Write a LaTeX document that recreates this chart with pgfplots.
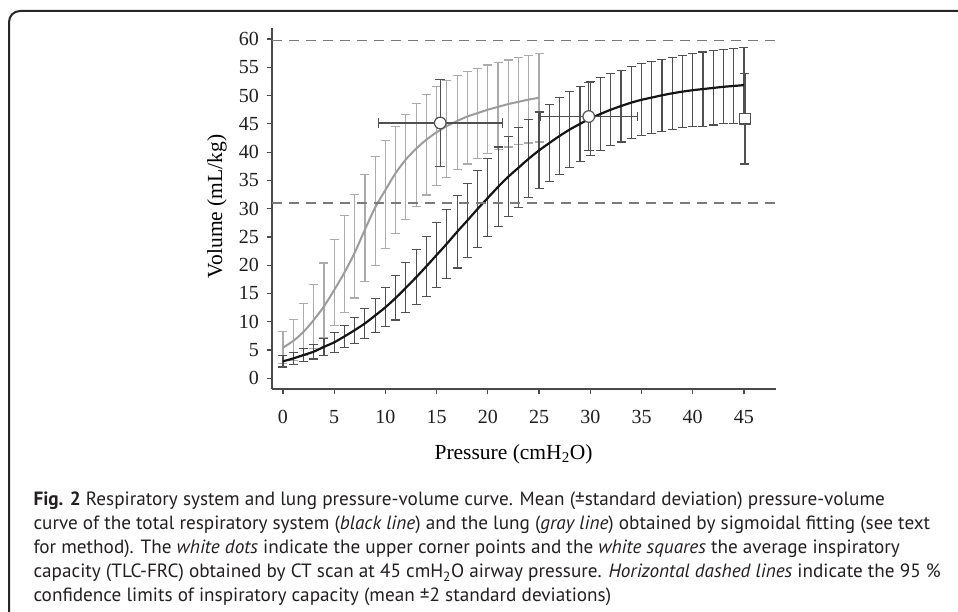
\documentclass[border=0pt]{standalone}
\usepackage{fontspec}
\setmainfont{Liberation Serif}
\newfontfamily\capfont{PT Sans}
\usepackage{pgfplots}
\usepackage{pgfplotstable}
\pgfplotsset{compat=1.18}

\definecolor{axisgray}{HTML}{4A4A4A}
\definecolor{bargray}{HTML}{ABABAB}
\definecolor{linegray}{HTML}{9C9C9C}
\definecolor{bardark}{HTML}{505050}
\definecolor{dashgray}{HTML}{7A7A7A}
\definecolor{captext}{HTML}{231F20}

% respiratory system: mean and SD at each pressure
\pgfplotstableread{
p v e
0 3.0 1.0
1 3.5 1.0
2 4.1 1.2
3 4.7 1.3
4 5.55 1.55
5 6.35 1.75
6 7.4 2.0
7 8.5 2.3
8 9.7 2.6
9 11.1 3.0
10 12.55 3.45
11 14.2 3.9
12 16.0 4.4
13 17.85 4.85
14 19.8 5.3
15 21.8 5.7
16 23.8 6.1
17 25.9 6.4
18 27.9 6.6
19 29.95 6.75
20 31.9 6.9
21 33.85 7.05
22 35.65 7.05
23 37.25 7.05
24 38.85 6.95
25 40.3 6.8
26 41.6 6.8
27 42.85 6.75
28 44.0 6.7
29 45.0 6.6
30 45.95 6.55
31 46.75 6.45
32 47.5 6.4
33 48.15 6.35
34 48.75 6.35
35 49.25 6.35
36 49.65 6.35
37 50.05 6.35
38 50.4 6.4
39 50.7 6.4
40 50.95 6.45
41 51.15 6.55
42 51.35 6.55
43 51.55 6.55
44 51.7 6.6
45 51.85 6.65
}\blackbars

% lung: mean and SD at each pressure
\pgfplotstableread{
p v e
0 5.4 2.8
1 6.8 3.6
2 8.6 4.6
3 10.95 5.65
4 13.8 6.6
5 16.95 7.65
6 20.2 8.6
7 23.35 9.15
8 26.55 9.45
9 29.6 9.6
10 32.45 9.55
11 35.05 9.45
12 37.4 9.3
13 39.5 9.1
14 41.3 8.9
15 42.85 8.75
16 44.05 8.55
17 45.2 8.3
18 46.05 8.15
19 46.8 8.0
20 47.55 7.85
21 48.1 7.7
22 48.6 7.7
23 49.0 7.7
24 49.35 7.75
25 49.6 7.8
}\graybars

% lung: sigmoid fit
\pgfplotstableread{
p v
0 5.4
1 6.6
2 8.2
3 10.3
4 12.7
5 15.6
6 18.7
7 22.2
8 26.3
9 30.2
10 33.3
11 36.3
12 38.7
13 40.6
14 42.2
15 43.5
16 44.6
17 45.5
18 46.3
19 46.9
20 47.5
21 48.0
22 48.5
23 48.9
24 49.3
25 49.6
}\graycurve

\begin{document}
\begin{tikzpicture}
\useasboundingbox (0,0) rectangle (958pt,612pt);
\draw[line width=2pt, color=black!85, rounded corners=11pt] (9pt,-20pt) -- (9pt,601pt) -- (980pt,601pt);

\begin{axis}[
  at={(272pt,223pt)}, anchor=south west,
  scale only axis, width=503.7pt, height=360.7pt,
  xmin=-1.07, xmax=48.1, ymin=-1.9, ymax=61.9,
  axis lines=left,
  axis line style={-, line width=1.2pt, color=axisgray},
  tick align=outside,
  major tick length=5.5pt,
  tick style={line width=1.2pt, color=axisgray},
  xtick={0,5,...,45}, ytick={0,5,...,60},
  /pgf/number format/assume math mode=true,
  ticklabel style={font=\fontsize{20}{20}\selectfont, color=black!88},
  xticklabel style={yshift=-12pt},
  yticklabel style={xshift=-4pt},
  xlabel={Pressure (cmH\textsubscript{2}O)},
  ylabel={Volume (mL/kg)},
  every axis x label/.style={at={(axis description cs:0.4795,0)}, anchor=base, yshift=-70.3pt, font=\fontsize{21.5}{21.5}\selectfont},
  every axis y label/.style={at={(axis description cs:0,0.506)}, xshift=-50pt, rotate=90, anchor=base, font=\fontsize{21.5}{21.5}\selectfont},
  clip=false,
]
% lung error bars and fit
\addplot[draw=none, forget plot,
  error bars/.cd, y dir=both, y explicit,
  error bar style={draw=bargray, line width=1.2pt},
  error mark options={rotate=90, draw=bargray, line width=1.2pt, mark size=4.5pt}]
  table[x=p, y=v, y error=e] {\graybars};
\addplot[color=linegray, line width=2pt, smooth] table[x=p, y=v] {\graycurve};

% respiratory system error bars and fit
\addplot[draw=none, forget plot,
  error bars/.cd, y dir=both, y explicit,
  error bar style={draw=bardark, line width=1.15pt},
  error mark options={rotate=90, draw=bardark, line width=1.15pt, mark size=4.5pt}]
  table[x=p, y=v, y error=e] {\blackbars};
\addplot[color=black!92, line width=2.2pt, smooth] table[x=p, y=v] {\blackbars};

% 95 % confidence limits of inspiratory capacity
\addplot[color=dashgray, line width=1.3pt, dash pattern=on 10pt off 7pt] coordinates {(-1.07,59.7) (48.1,59.7)};
\addplot[color=dashgray, line width=1.3pt, dash pattern=on 10pt off 7pt] coordinates {(-1.07,31.0) (48.1,31.0)};

% upper corner points
\addplot[draw=none, mark=*, mark size=5.8pt,
  mark options={fill=white, draw=bardark, line width=1.2pt},
  error bars/.cd, x dir=both, x explicit, y dir=both, y explicit,
  error bar style={draw=bardark, line width=1.15pt},
  error mark options={rotate=90, draw=bardark, line width=1.15pt, mark size=4.8pt}]
  coordinates {(15.35,45.15) +- (6.05,7.75) (29.85,46.3) +- (4.75,6.0)};

% CT inspiratory capacity
\addplot[draw=none, mark=square*, mark size=5.3pt,
  mark options={fill=white, draw=bardark, line width=1.2pt},
  error bars/.cd, y dir=both, y explicit,
  error bar style={draw=bardark, line width=1.15pt},
  error mark options={rotate=90, draw=bardark, line width=1.15pt, mark size=4.5pt}]
  coordinates {(45.1,45.9) +- (0,8.0)};
\end{axis}

\begin{scope}[every node/.style={anchor=base west, inner sep=0pt, text=captext, font=\capfont\fontsize{19.2}{19.2}\selectfont}]
\node at (33.3pt,106pt) {\textbf{Fig. 2} Respiratory system and lung pressure-volume curve. Mean (±standard deviation) pressure-volume};
\node at (33.3pt,82pt) {curve of the total respiratory system (\textit{black line}) and the lung (\textit{gray line}) obtained by sigmoidal fitting (see text};
\node at (33.3pt,58pt) {for method). The \textit{white dots} indicate the upper corner points and the \textit{white squares} the average inspiratory};
\node at (33.3pt,34pt) {capacity (TLC-FRC) obtained by CT scan at 45 cmH\textsubscript{2}O airway pressure. \textit{Horizontal dashed lines} indicate the 95 \%};
\node at (33.3pt,10pt) {confidence limits of inspiratory capacity (mean ±2 standard deviations)};
\end{scope}
\end{tikzpicture}
\end{document}
